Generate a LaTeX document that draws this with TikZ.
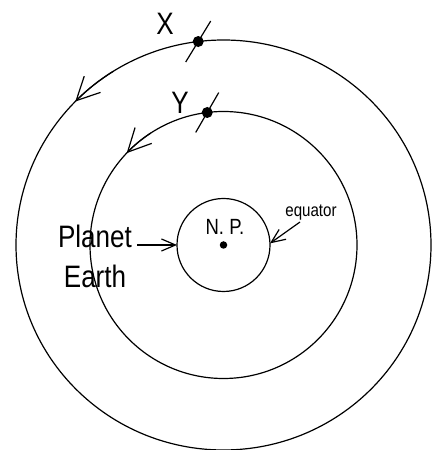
\documentclass[tikz,border=0pt]{standalone}
\usepackage{fontspec}
\newfontfamily\narrow[FakeStretch=0.84]{Liberation Sans}
\usetikzlibrary{shapes.geometric,arrows.meta}
\begin{document}
\begin{tikzpicture}[x=1pt,y=1pt,
  ln/.style={line width=1.2pt},
  orbit/.style={ln, draw, inner sep=0pt, outer sep=0pt},
  dot/.style={circle, fill, inner sep=0pt, minimum size=11pt},
  barb/.style={ln, -{Straight Barb[length=23pt,width=23pt,line width=1.2pt]}},
  arr/.style={ln, -{Straight Barb[length=14pt,width=12pt,line width=1.2pt]}},
  big/.style={inner sep=0pt, font=\narrow\fontsize{31}{40}\selectfont},
  mid/.style={inner sep=0pt, font=\narrow\fontsize{22}{26}\selectfont},
  small/.style={inner sep=0pt, font=\narrow\fontsize{18}{22}\selectfont}]
\useasboundingbox (0,0) rectangle (437,450);
\fill[white] (0,0) rectangle (437,450);
\coordinate (C) at (223.5,205);
% orbits and planet
\node[orbit, ellipse, minimum width=415pt, minimum height=410pt] (outer) at (C) {};
\node[orbit, circle, minimum size=267pt] (middle) at (C) {};
\node[orbit, circle, minimum size=93pt] (inner) at (C) {};
\node[dot, minimum size=7.5pt] (np) at (C) {};
% satellites
\node[dot] (xdot) at ([shift={(97:207.5pt and 205pt)}]C) {};
\node[dot] (ydot) at ([shift={(97:133.5pt)}]C) {};
\draw[ln] (xdot.center) ++(58.6:-24pt) -- ++(58.6:48pt);
\draw[ln] (ydot.center) ++(60:-23pt) -- ++(60:46pt);
\node[big] (xl) at (165,426.5) {X};
\node[big] (yl) at (180,347) {Y};
% direction arrows on orbits
\draw[barb] ([shift={(122:207.5pt and 205pt)}]C) arc[start angle=122, end angle=135.6, x radius=207.5pt, y radius=205pt];
\draw[barb] ([shift={(123:133.5pt)}]C) arc[start angle=123, end angle=136.5, radius=133.5pt];
% labels
\node[big, anchor=base] (planet) at (95,202) {Planet};
\node[big, anchor=base] (earth) at (95,162) {Earth};
\node[mid, anchor=base] (nplabel) at (225,215) {N. P.};
\node[small, anchor=base] (eq) at (311,233) {equator};
\draw[arr] ([shift={(5pt,3pt)}]planet.base east) -- (inner.west);
\coordinate (eqstart) at (300,228);
\draw[arr] (eqstart) -- (inner.2.5);
\end{tikzpicture}
\end{document}
